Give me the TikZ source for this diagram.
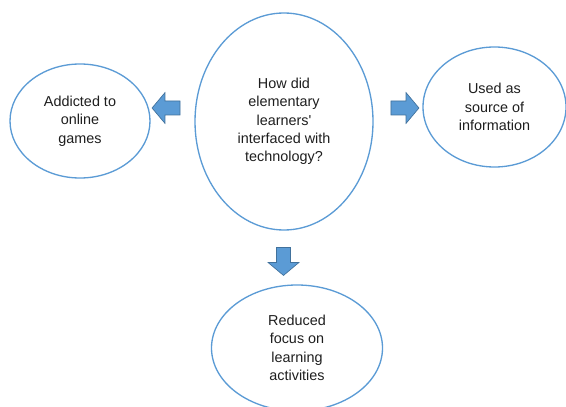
\documentclass[tikz,border=0pt]{standalone}
\usepackage{fontspec}
\setmainfont{Liberation Sans}
\usetikzlibrary{shapes.geometric,shapes.arrows}
\definecolor{ovalblue}{HTML}{5B9BD5}
\definecolor{arrowedge}{HTML}{41719C}
\definecolor{textgray}{HTML}{1E1E1E}
\begin{document}
\begin{tikzpicture}[x=0.75pt,y=-0.75pt,
  oval/.style={ellipse,draw=ovalblue,line width=1pt,inner sep=0pt,align=center,
    text=textgray,font=\fontsize{10.8}{13.75}\selectfont},
  blockarrow/.style={single arrow,fill=ovalblue,draw=arrowedge,line width=0.5pt,
    minimum height=21pt,inner xsep=0pt,inner ysep=5pt,
    single arrow head extend=6.25pt,single arrow tip angle=100}]
\useasboundingbox (0,0) rectangle (566,406);

\node[oval,minimum width=133.5pt,minimum height=162.75pt] (tech) at (284,121.5)
  {How did\\elementary\\learners\textquotesingle\\interfaced with\\technology?};

\node[oval,minimum width=105pt,minimum height=85.5pt] (games) at (80,121)
  {Addicted to\\online\\games};
\node[oval,minimum width=107.25pt,minimum height=90pt] (info) at (494.5,107)
  {Used as\\source of\\information};
\node[oval,minimum width=128.25pt,minimum height=94.5pt] (focus) at (297,348)
  {Reduced\\focus on\\learning\\activities};

\node[blockarrow,rotate=180] (toleft) at (169,108) {};
\node[blockarrow] (toright) at (402,108) {};
\node[blockarrow,rotate=-90] (todown) at (283.5,258.5) {};
\end{tikzpicture}
\end{document}
